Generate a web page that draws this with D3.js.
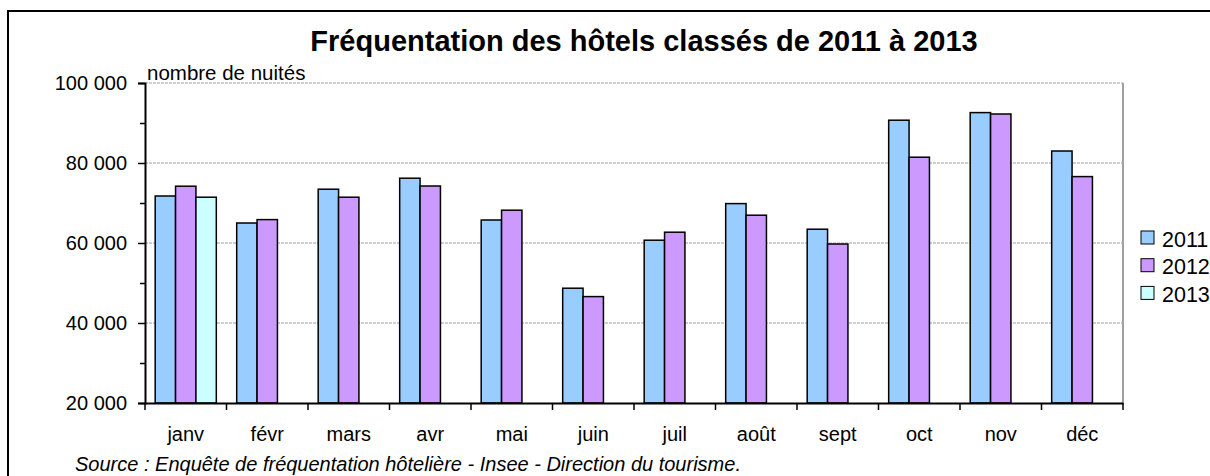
<!DOCTYPE html>
<html>
<head>
<meta charset="utf-8">
<script src="https://cdn.jsdelivr.net/npm/d3@7"></script>
<style>
  body { margin: 0; background: #fff; }
  svg { display: block; font-family: "Liberation Sans", Arial, sans-serif; }
</style>
</head>
<body>
<svg id="chart" width="1210" height="476"></svg>
<script>
var months = ["janv", "févr", "mars", "avr", "mai", "juin", "juil", "août", "sept", "oct", "nov", "déc"];
var years = ["2011", "2012", "2013"];
var v2011 = [71750, 65000, 73450, 76200, 65750, 48700, 60700, 69850, 63450, 90700, 92600, 83000];
var v2012 = [74200, 65850, 71450, 74250, 68200, 46600, 62700, 66950, 59750, 81450, 92250, 76600];
var v2013 = [71450, null, null, null, null, null, null, null, null, null, null, null];
var colors = ["#99ccff", "#cc99ff", "#ccffff"];
var yTicks = [20000, 40000, 60000, 80000, 100000];

var svg = d3.select("#chart");
var pLeft = 145, pRight = 1123, pTop = 83, pBottom = 403;

// cadre extérieur
svg.append("rect")
  .attr("x", 8).attr("y", 11)
  .attr("width", 1230).attr("height", 490)
  .attr("fill", "none").attr("stroke", "#000").attr("stroke-width", 2);

svg.append("text")
  .attr("x", 644).attr("y", 51)
  .attr("text-anchor", "middle")
  .attr("font-size", 29).attr("font-weight", "bold")
  .text("Fréquentation des hôtels classés de 2011 à 2013");

var x = d3.scaleBand().domain(months).range([pLeft, pRight]);
var xs = d3.scaleBand().domain(years).range([0, x.bandwidth()]).paddingOuter(0.5).paddingInner(0);
var y = d3.scaleLinear().domain([20000, 100000]).range([pBottom, pTop]);

// grille
svg.append("g").selectAll("line").data(yTicks.slice(1)).enter().append("line")
  .attr("x1", pLeft).attr("x2", pRight)
  .attr("y1", function(d){ return y(d); }).attr("y2", function(d){ return y(d); })
  .attr("stroke", "#a0a0a0").attr("stroke-width", 1.2)
  .attr("stroke-dasharray", "3,1");

// bord droit
svg.append("line")
  .attr("x1", pRight).attr("x2", pRight).attr("y1", pTop).attr("y2", pBottom)
  .attr("stroke", "#a0a0a0").attr("stroke-width", 2);

var series = [v2011, v2012, v2013];
series.forEach(function(vals, si){
  svg.append("g").selectAll("rect")
    .data(vals.map(function(v, i){ return {m: months[i], v: v}; }).filter(function(d){ return d.v != null; }))
    .enter().append("rect")
    .attr("x", function(d){ return x(d.m) + xs(years[si]); })
    .attr("y", function(d){ return y(d.v); })
    .attr("width", xs.bandwidth())
    .attr("height", function(d){ return pBottom - y(d.v); })
    .attr("fill", colors[si])
    .attr("stroke", "#000").attr("stroke-width", 1.5);
});

// axe y
var yAxis = svg.append("g").attr("transform", "translate(" + pLeft + ",0)")
  .call(d3.axisLeft(y).tickValues(yTicks).tickSize(7).tickPadding(11)
    .tickFormat(function(d){ return d3.format(",")(d).replace(/,/g, " "); }));
yAxis.select(".domain").attr("stroke-width", 2);
yAxis.selectAll(".tick line").attr("stroke-width", 1.5);
yAxis.selectAll("text").attr("font-size", 20).attr("font-family", "Liberation Sans, Arial, sans-serif").attr("fill", "#000");
svg.append("g").attr("transform", "translate(" + pLeft + ",0)")
  .call(d3.axisLeft(y).tickValues([30000, 50000, 70000, 90000]).tickSize(5).tickFormat(""))
  .call(function(g){ g.select(".domain").remove(); g.selectAll("line").attr("stroke-width", 1.5); });

// axe x
var xAxis = svg.append("g").attr("transform", "translate(0," + pBottom + ")")
  .call(d3.axisBottom(x).tickSize(0));
xAxis.select(".domain").attr("stroke-width", 2);
xAxis.selectAll("text")
  .attr("y", 38).attr("dy", 0)
  .attr("font-size", 20).attr("font-family", "Liberation Sans, Arial, sans-serif").attr("fill", "#000");
svg.append("g").selectAll("line").data(months.concat(["end"])).enter().append("line")
  .attr("x1", function(d, i){ return pLeft + i * x.step(); })
  .attr("x2", function(d, i){ return pLeft + i * x.step(); })
  .attr("y1", pBottom).attr("y2", pBottom + 7)
  .attr("stroke", "#000").attr("stroke-width", 1.5);

svg.append("text")
  .attr("x", 147).attr("y", 80)
  .attr("font-size", 20.5)
  .text("nombre de nuités");

// légende
var legend = svg.append("g").selectAll("g").data(years).enter().append("g")
  .attr("transform", function(d, i){ return "translate(1141," + (231 + i * 27.7) + ")"; });
legend.append("rect")
  .attr("width", 13).attr("height", 13)
  .attr("fill", function(d, i){ return colors[i]; })
  .attr("stroke", "#000").attr("stroke-width", 1);
legend.append("text")
  .attr("x", 21).attr("y", 15.5)
  .attr("font-size", 21.5)
  .text(function(d){ return d; });

svg.append("text")
  .attr("x", 75).attr("y", 471)
  .attr("font-size", 20).attr("font-style", "italic")
  .text("Source : Enquête de fréquentation hôtelière - Insee - Direction du tourisme.");
</script>
</body>
</html>
